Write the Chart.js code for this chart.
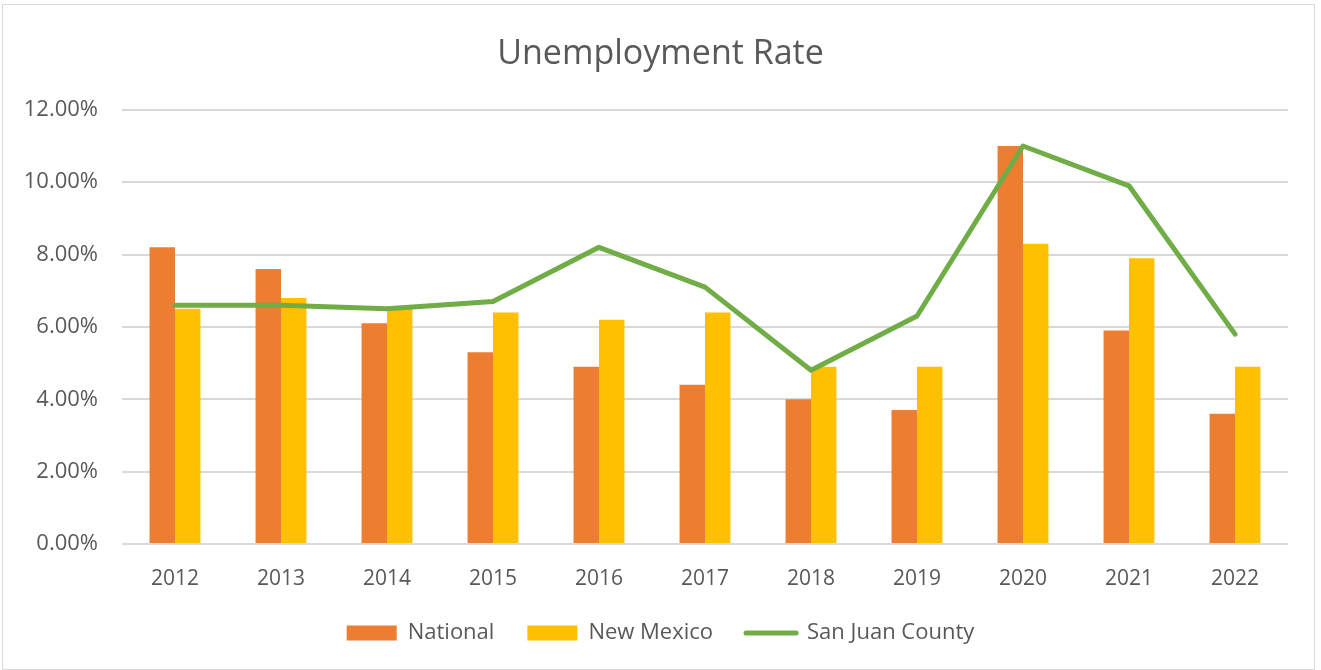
<!DOCTYPE html>
<html>
<head>
<meta charset="utf-8">
<script src="https://cdn.jsdelivr.net/npm/chart.js@4/dist/chart.umd.min.js"></script>
<style>
  html, body { margin: 0; padding: 0; background: #fff; }
  .frame { position: absolute; left: 2px; top: 4px; width: 1313px; height: 666px; border: 1px solid #d9d9d9; box-sizing: border-box; }
  .wrap { position: absolute; left: 0; top: 0; width: 1321px; height: 670px; }
</style>
</head>
<body>
<div class="frame"></div>
<div class="wrap"><canvas id="chart" width="1321" height="670"></canvas></div>
<script>
// Unemployment rate by year (percent)
const years = ['2012', '2013', '2014', '2015', '2016', '2017', '2018', '2019', '2020', '2021', '2022'];
const national = [8.2, 7.6, 6.1, 5.3, 4.9, 4.4, 4.0, 3.7, 11.0, 5.9, 3.6];
const newMexico = [6.5, 6.8, 6.5, 6.4, 6.2, 6.4, 4.9, 4.9, 8.3, 7.9, 4.9];
const sanJuan = [6.6, 6.6, 6.5, 6.7, 8.2, 7.1, 4.8, 6.3, 11.0, 9.9, 5.8];
const yTicks = [0, 2, 4, 6, 8, 10, 12];

const textColor = '#595959';
const gridColor = '#d9d9d9';
const font = 'Open Sans';

new Chart(document.getElementById('chart'), {
  type: 'bar',
  data: {
    labels: years,
    datasets: [
      { label: 'National', data: national, backgroundColor: '#ed7d31', order: 1 },
      { label: 'New Mexico', data: newMexico, backgroundColor: '#ffc000', order: 1 },
      {
        type: 'line',
        label: 'San Juan County',
        data: sanJuan,
        borderColor: '#70ad47',
        backgroundColor: '#70ad47',
        borderWidth: 5,
        pointRadius: 0,
        tension: 0,
        borderJoinStyle: 'round',
        borderCapStyle: 'round',
        order: 0
      }
    ]
  },
  options: {
    responsive: false,
    animation: false,
    maintainAspectRatio: false,
    datasets: { bar: { barPercentage: 1, categoryPercentage: 0.48 } },
    layout: { padding: { left: 0, right: 0, top: 0, bottom: 16 } },
    plugins: {
      title: {
        display: true,
        text: 'Unemployment Rate',
        color: textColor,
        font: { family: font, size: 34, weight: 'normal', lineHeight: 1.2 },
        padding: { top: 34, bottom: 35 }
      },
      legend: {
        position: 'bottom',
        labels: {
          color: textColor,
          font: { family: font, size: 22 },
          usePointStyle: true,
          pointStyleWidth: 50,
          boxHeight: 15,
          padding: 33,
          sort: (a, b) => a.datasetIndex - b.datasetIndex,
          generateLabels: chart => chart.data.datasets.map((ds, i) => ({
            text: ds.label,
            datasetIndex: i,
            fillStyle: ds.backgroundColor,
            strokeStyle: ds.type === 'line' ? ds.borderColor : ds.backgroundColor,
            lineWidth: ds.type === 'line' ? 5 : 0,
            lineCap: 'round',
            pointStyle: ds.type === 'line' ? 'line' : 'rect',
            fontColor: textColor,
            hidden: false
          }))
        }
      },
      tooltip: { enabled: false }
    },
    scales: {
      x: {
        afterFit: scale => { scale.height = 45; },
        grid: { display: false, drawTicks: false },
        border: { display: false },
        ticks: { color: textColor, font: { family: font, size: 21 }, padding: 22 }
      },
      y: {
        min: 0,
        max: 12,
        afterFit: scale => { scale.width = 122; },
        afterBuildTicks: scale => { scale.ticks = yTicks.map(v => ({ value: v })); },
        grid: { color: gridColor, lineWidth: 2, drawTicks: false },
        border: { display: false },
        ticks: {
          color: textColor,
          font: { family: font, size: 22 },
          padding: 24,
          callback: v => v.toFixed(2) + '%'
        }
      },
      // empty right-hand gutter so the plot ends where the reference does
      gutter: {
        position: 'right',
        afterFit: scale => { scale.width = 33; },
        grid: { display: false, drawTicks: false },
        border: { display: false },
        ticks: { display: false }
      }
    }
  }
});
</script>
</body>
</html>
